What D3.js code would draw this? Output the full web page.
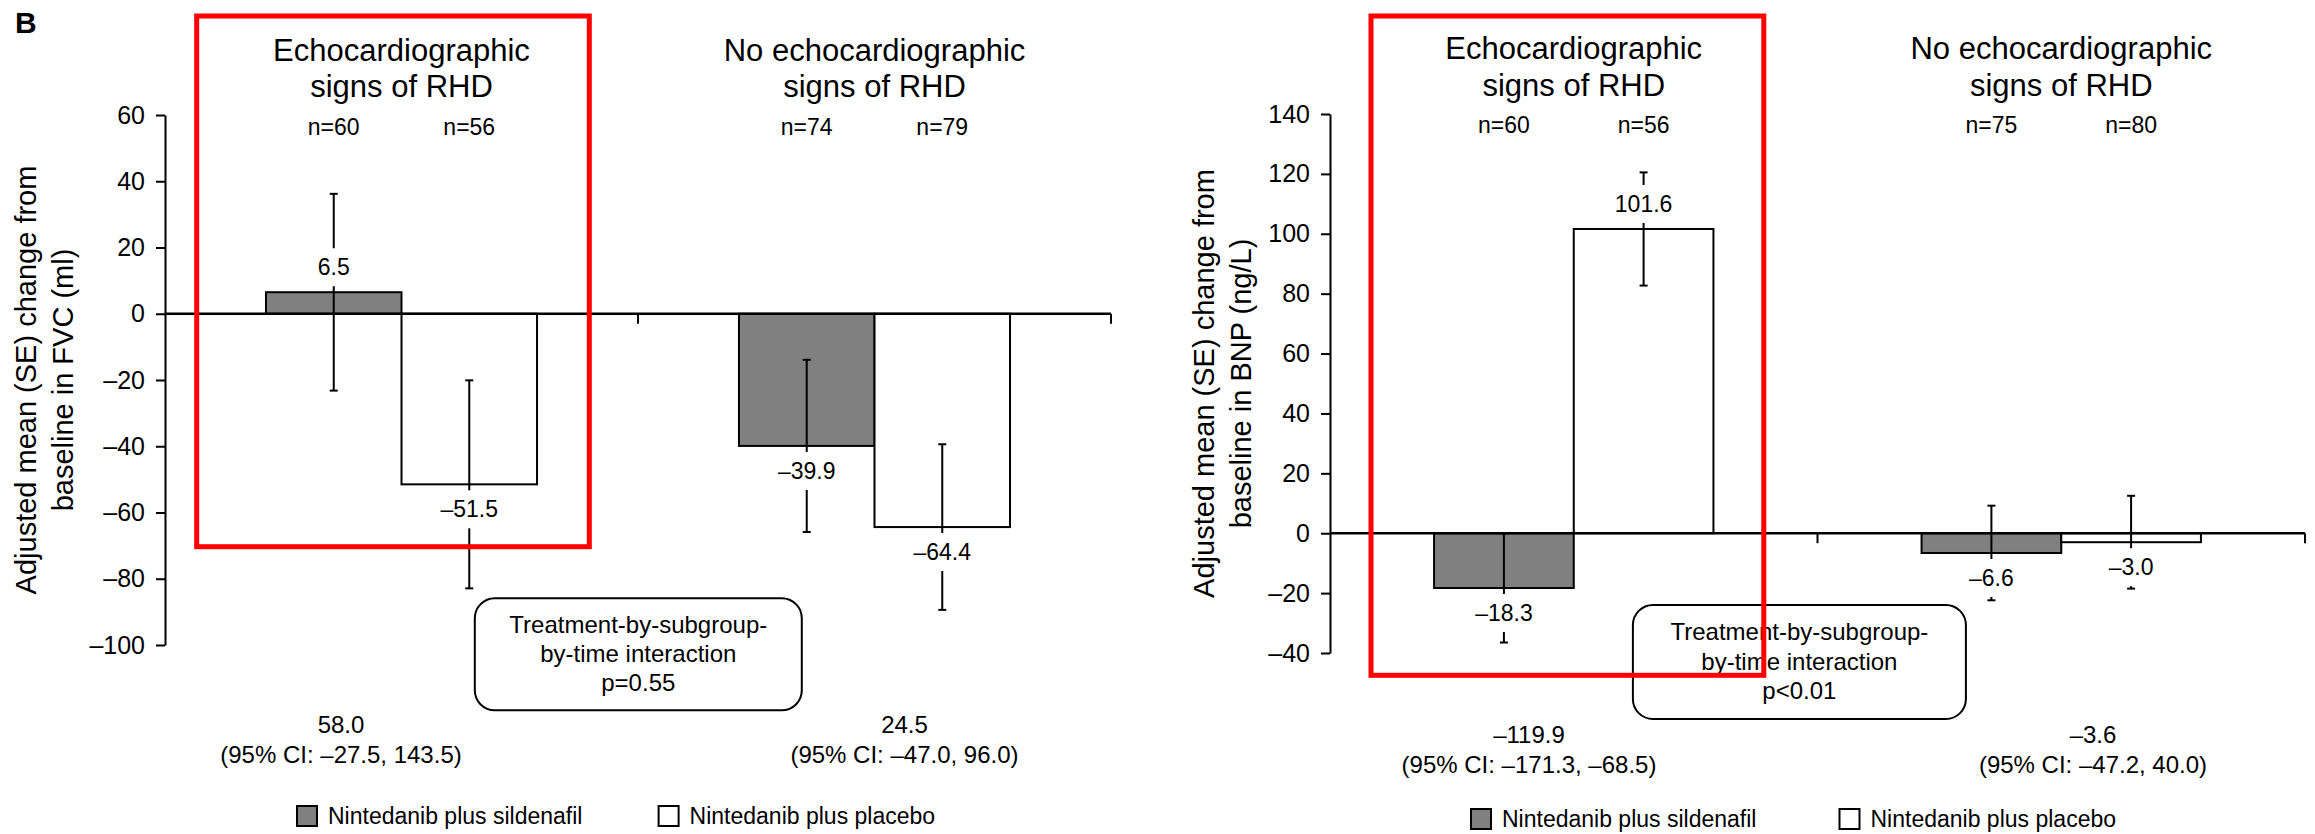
<!DOCTYPE html>
<html><head><meta charset="utf-8">
<script src="https://cdn.jsdelivr.net/npm/d3@7"></script>
<style>
body{margin:0;background:#fff;}
svg{display:block;font-family:"Liberation Sans",Arial,Helvetica,sans-serif;}
</style></head><body>
<svg id="chart" width="2315" height="834"></svg>
<script>
// ---------- DATA ----------
const groups = ["RHD", "NoRHD"];
const groupTitles = [["Echocardiographic", "signs of RHD"], ["No echocardiographic", "signs of RHD"]];
const seriesKeys = ["sildenafil", "placebo"];
const seriesNames = ["Nintedanib plus sildenafil", "Nintedanib plus placebo"];

// FVC panel
const fvcSildenafil = [6.5, -39.9];
const fvcPlacebo = [-51.5, -64.4];
const fvcSildenafilSE = [29.7, 26.0];
const fvcPlaceboSE = [31.4, 25.0];
const fvcSildenafilN = [60, 74];
const fvcPlaceboN = [56, 79];
const fvcDiff = ["58.0", "24.5"];
const fvcCI = ["(95% CI: –27.5, 143.5)", "(95% CI: –47.0, 96.0)"];
const fvcInteraction = ["Treatment-by-subgroup-", "by-time interaction", "p=0.55"];
const fvcTicks = [60, 40, 20, 0, -20, -40, -60, -80, -100];
const fvcAxisTitle = ["Adjusted mean (SE) change from", "baseline in FVC (ml)"];

// BNP panel
const bnpSildenafil = [-18.3, -6.6];
const bnpPlacebo = [101.6, -3.0];
const bnpSildenafilSE = [18.2, 15.8];
const bnpPlaceboSE = [18.9, 15.5];
const bnpSildenafilN = [60, 75];
const bnpPlaceboN = [56, 80];
const bnpDiff = ["–119.9", "–3.6"];
const bnpCI = ["(95% CI: –171.3, –68.5)", "(95% CI: –47.2, 40.0)"];
const bnpInteraction = ["Treatment-by-subgroup-", "by-time interaction", "p<0.01"];
const bnpTicks = [140, 120, 100, 80, 60, 40, 20, 0, -20, -40];
const bnpAxisTitle = ["Adjusted mean (SE) change from", "baseline in BNP (ng/L)"];

const panelLabel = "B";

// ---------- LAYOUT ----------
const panels = [
  {
    vals: [fvcSildenafil, fvcPlacebo], se: [fvcSildenafilSE, fvcPlaceboSE], n: [fvcSildenafilN, fvcPlaceboN],
    diff: fvcDiff, ci: fvcCI, inter: fvcInteraction, ticks: fvcTicks, axisTitle: fvcAxisTitle,
    x0: 165, x1: 1111, yTop: 115, yBot: 645, domain: [-100, 60],
    red: [196.7, 16, 589.3, 546.7],
    titleBase: [61, 97.3], nBase: 135,
    box: {cx: 638.3, y: 598.3, w: 327, h: 112, lines: [625, 654, 683]},
    diffX: [341, 904.5], diffY: [725, 755],
    legY: 816, legX: [297, 658.6],
    axisTitleBase: [36, 73]
  },
  {
    vals: [bnpSildenafil, bnpPlacebo], se: [bnpSildenafilSE, bnpPlaceboSE], n: [bnpSildenafilN, bnpPlaceboN],
    diff: bnpDiff, ci: bnpCI, inter: bnpInteraction, ticks: bnpTicks, axisTitle: bnpAxisTitle,
    x0: 1330, x1: 2305, yTop: 114, yBot: 653, domain: [-40, 140],
    red: [1371, 16, 1763.8, 675.3],
    titleBase: [58.5, 96], nBase: 133.3,
    box: {cx: 1799.4, y: 605, w: 333, h: 114, lines: [632, 662, 691]},
    diffX: [1529, 2093], diffY: [735, 765],
    legY: 819, legX: [1471, 1839.5],
    axisTitleBase: [1214, 1251]
  }
];

const GRAY = "#808080";
const SMALL = 23;
const svg = d3.select("#chart");
const fmt = v => (v < 0 ? "–" : "") + Math.abs(v).toFixed(1);
const tfmt = v => (v < 0 ? "–" : "") + Math.abs(v);

svg.append("text").attr("x", 15).attr("y", 33).attr("font-size", 30).attr("font-weight", "bold").text(panelLabel);

panels.forEach(p => {
  const g = svg.append("g");
  const y = d3.scaleLinear().domain(p.domain).range([p.yBot, p.yTop]);
  const x = d3.scaleBand().domain(groups).range([p.x0, p.x1]).paddingInner(0).paddingOuter(0);
  const xs = d3.scaleBand().domain(seriesKeys).range([0, x.bandwidth()]).paddingInner(0).paddingOuter(0.745);

  const data = [];
  groups.forEach((gr, gi) => seriesKeys.forEach((s, si) => {
    data.push({gr, gi, s, si, v: p.vals[si][gi], se: p.se[si][gi], n: p.n[si][gi]});
  }));

  // group titles
  groups.forEach((gr, gi) => {
    const cx = x(gr) + x.bandwidth() / 2;
    groupTitles[gi].forEach((t, li) => {
      g.append("text").attr("x", cx).attr("y", p.titleBase[li]).attr("text-anchor", "middle")
        .attr("font-size", 31).text(t);
    });
  });
  // n labels
  g.selectAll(".nlab").data(data).join("text")
    .attr("x", d => x(d.gr) + xs(d.s) + xs.bandwidth() / 2).attr("y", p.nBase)
    .attr("text-anchor", "middle").attr("font-size", SMALL).text(d => "n=" + d.n);

  // bars
  g.selectAll(".bar").data(data).join("rect")
    .attr("x", d => x(d.gr) + xs(d.s)).attr("width", xs.bandwidth())
    .attr("y", d => y(Math.max(0, d.v))).attr("height", d => Math.abs(y(d.v) - y(0)))
    .attr("fill", d => d.si === 0 ? GRAY : "#fff").attr("stroke", "#000").attr("stroke-width", 2);

  // zero line + separators
  g.append("line").attr("x1", p.x0).attr("x2", p.x1).attr("y1", y(0)).attr("y2", y(0))
    .attr("stroke", "#000").attr("stroke-width", 2.5);
  groups.forEach(gr => {
    const xx = x(gr) + x.bandwidth();
    g.append("line").attr("x1", xx).attr("x2", xx).attr("y1", y(0)).attr("y2", y(0) + 10)
      .attr("stroke", "#000").attr("stroke-width", 2);
  });

  // error bar stems
  const cxOf = d => x(d.gr) + xs(d.s) + xs.bandwidth() / 2;
  g.selectAll(".err").data(data).join("line")
    .attr("x1", cxOf).attr("x2", cxOf).attr("y1", d => y(d.v - d.se)).attr("y2", d => y(d.v + d.se))
    .attr("stroke", "#000").attr("stroke-width", 2);

  // value labels with white background
  data.forEach(d => {
    const cy = y(d.v) + (d.v >= 0 ? -25 : 25);
    const t = g.append("text").attr("x", cxOf(d)).attr("y", cy).attr("dy", "0.35em")
      .attr("text-anchor", "middle").attr("font-size", SMALL).text(fmt(d.v));
    const bb = t.node().getBBox();
    g.insert("rect", () => t.node()).attr("x", bb.x - 3).attr("width", bb.width + 6)
      .attr("y", cy - 19).attr("height", 38).attr("fill", "#fff");
  });

  // caps
  data.forEach(d => {
    [d.v - d.se, d.v + d.se].forEach(e => {
      g.append("line").attr("x1", cxOf(d) - 4).attr("x2", cxOf(d) + 4).attr("y1", y(e)).attr("y2", y(e))
        .attr("stroke", "#000").attr("stroke-width", 2);
    });
  });

  // y axis
  const ax = g.append("g").attr("transform", `translate(${p.x0},0)`)
    .call(d3.axisLeft(y).tickValues(p.ticks).tickSize(9).tickSizeOuter(0).tickPadding(11).tickFormat(tfmt));
  ax.select(".domain").attr("stroke", "#000").attr("stroke-width", 2);
  ax.selectAll(".tick line").attr("stroke", "#000").attr("stroke-width", 2);
  ax.selectAll(".tick text").attr("font-size", 25).attr("fill", "#000").attr("font-family", null);

  // axis title
  const ycen = (p.yTop + p.yBot) / 2;
  p.axisTitle.forEach((t, li) => {
    g.append("text").attr("transform", `translate(${p.axisTitleBase[li]},${ycen}) rotate(-90)`)
      .attr("text-anchor", "middle").attr("font-size", 29).text(t);
  });

  // interaction box
  g.append("rect").attr("x", p.box.cx - p.box.w / 2).attr("y", p.box.y).attr("width", p.box.w).attr("height", p.box.h)
    .attr("rx", 20).attr("ry", 20).attr("fill", "#fff").attr("stroke", "#000").attr("stroke-width", 2);
  p.inter.forEach((t, li) => {
    g.append("text").attr("x", p.box.cx).attr("y", p.box.lines[li]).attr("dy", "0.35em")
      .attr("text-anchor", "middle").attr("font-size", 24).text(t);
  });

  // differences
  groups.forEach((gr, gi) => {
    g.append("text").attr("x", p.diffX[gi]).attr("y", p.diffY[0]).attr("dy", "0.35em")
      .attr("text-anchor", "middle").attr("font-size", 24).text(p.diff[gi]);
    g.append("text").attr("x", p.diffX[gi]).attr("y", p.diffY[1]).attr("dy", "0.35em")
      .attr("text-anchor", "middle").attr("font-size", 24).text(p.ci[gi]);
  });

  // legend
  seriesNames.forEach((nm, si) => {
    g.append("rect").attr("x", p.legX[si]).attr("y", p.legY - 10).attr("width", 20).attr("height", 20)
      .attr("fill", si === 0 ? GRAY : "#fff").attr("stroke", "#000").attr("stroke-width", 2);
    g.append("text").attr("x", p.legX[si] + 31).attr("y", p.legY).attr("dy", "0.35em")
      .attr("font-size", SMALL).text(nm);
  });

  // red highlight box
  const r = p.red;
  g.append("rect").attr("x", r[0]).attr("y", r[1]).attr("width", r[2] - r[0]).attr("height", r[3] - r[1])
    .attr("fill", "none").attr("stroke", "#ff0000").attr("stroke-width", 5);
});
</script>
</body></html>
